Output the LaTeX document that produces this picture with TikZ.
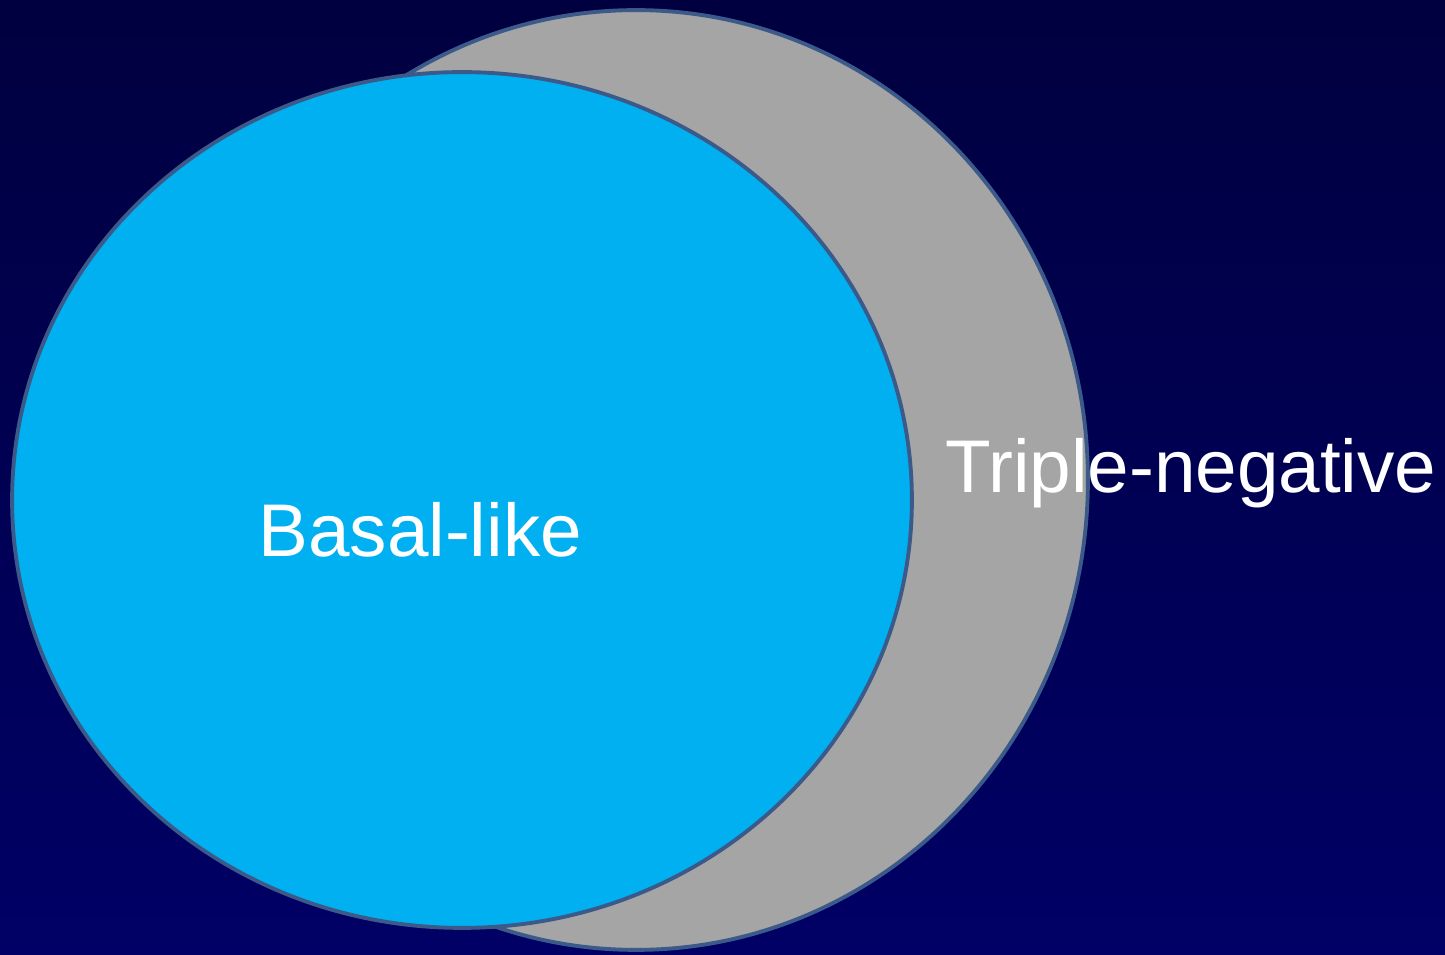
\documentclass[tikz,border=0pt]{standalone}
\usepackage{fontspec}
\setmainfont{Liberation Sans}
\usetikzlibrary{shapes.geometric}
\definecolor{navytop}{HTML}{000040}
\definecolor{navybot}{HTML}{000066}
\definecolor{rimblue}{HTML}{3B5A8A}
\definecolor{setgray}{HTML}{A5A5A5}
\definecolor{setblue}{HTML}{00B0F0}

\begin{document}
\begin{tikzpicture}[x=0.02cm, y=-0.02cm]
    \tikzstyle{set} = [draw=rimblue, line width=2.2pt, ellipse,
	inner sep=0pt, outer sep=0pt]
    \tikzstyle{label} = [text=white, font=\fontsize{42.5}{50}\selectfont,
	inner sep=0pt]
	% background
	\shade[top color=navytop, bottom color=navybot] (0,0) rectangle (1445,955);
	\useasboundingbox (0,0) rectangle (1445,955);
	% the two sets
	\node[set, fill=setgray, minimum width=18.08cm, minimum height=18.8cm]
		(tneg) at (636,480) {};
	\node[set, fill=setblue, minimum width=18cm, minimum height=17.12cm]
		(basal) at (462,500) {};
	% labels
	\node[label, anchor=base west] (tnegl) at (945,493) {Triple-negative};
	\node[label, anchor=base west] (basall) at (258,557) {Basal-like};
\end{tikzpicture}
\end{document}
